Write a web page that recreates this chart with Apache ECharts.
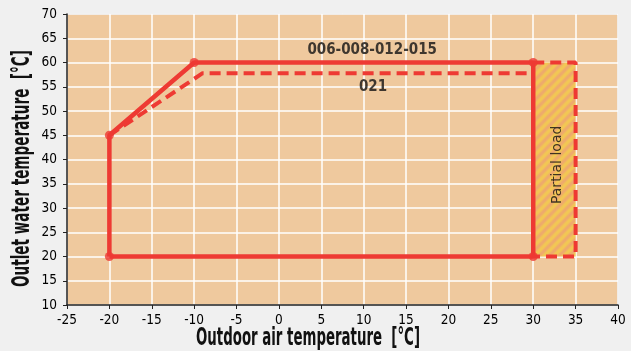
<!DOCTYPE html>
<html>
<head>
<meta charset="utf-8">
<script src="https://cdn.jsdelivr.net/npm/echarts@6/dist/echarts.min.js"></script>
<style>
  html, body { margin: 0; padding: 0; background: #f0f0f0; }
  #chart { width: 631px; height: 351px; }
</style>
</head>
<body>
<div id="chart"></div>
<script>
// Operating envelope: outdoor air temperature (°C) vs outlet water temperature (°C)
const envelopeMain = [[-20, 20], [-20, 45], [-10, 60], [30, 60], [30, 20], [-20, 20]];
const cornerPoints = [[-20, 20], [-20, 45], [-10, 60], [30, 60], [30, 20]];
const envelope021 = [[-20, 45], [-9, 57.8], [30, 57.8]];
const partialLoadOutline = [[30, 60], [35, 60], [35, 20], [30, 20]];
const partialLoadBox = [[30, 60], [35, 20]];
const modelLabels = [
  { name: '006-008-012-015', coord: [11, 62.6] },
  { name: '021', coord: [11.1, 54.85] }
];
const partialLoadLabel = { name: 'Partial load', coord: [32.9, 38.9] };
const xTitle = 'Outdoor air temperature  [°C]';
const yTitle = 'Outlet water temperature  [°C]';

const RED = '#ee3a33';
const TITLE_FONT = 'bold 25px "DejaVu Sans Condensed", "DejaVu Sans", sans-serif';

// diagonal hatch used for the partial-load zone
function hatchPattern() {
  const size = 10;
  const c = document.createElement('canvas');
  c.width = size; c.height = size;
  const g = c.getContext('2d');
  g.fillStyle = '#eea474';
  g.fillRect(0, 0, size, size);
  g.strokeStyle = '#f2cb50';
  g.lineWidth = 4;
  g.filter = 'blur(1px)';
  for (let k = -1; k <= 1; k++) {
    g.beginPath();
    g.moveTo(k * size - 3, size + 3);
    g.lineTo(k * size + size + 3, -3);
    g.stroke();
  }
  return c;
}

// horizontal squeeze so a title fits a given pixel length
function squeezeFor(text, targetWidth) {
  const g = document.createElement('canvas').getContext('2d');
  g.font = TITLE_FONT;
  return targetWidth / g.measureText(text).width;
}

const chart = echarts.init(document.getElementById('chart'), null, { renderer: 'canvas' });
const tickFont = { color: '#000000', fontSize: 13.5, fontFamily: 'DejaVu Sans Condensed, DejaVu Sans, sans-serif' };
const titleStyle = { font: TITLE_FONT, fill: '#111111', align: 'center', verticalAlign: 'middle' };

chart.setOption({
  backgroundColor: '#f0f0f0',
  animation: false,
  grid: {
    left: 67, right: 13, top: 14, bottom: 46,
    show: true, backgroundColor: '#efc99e',
    borderColor: '#a0a0a0', borderWidth: 1
  },
  xAxis: {
    type: 'value', min: -25, max: 40, interval: 5,
    axisLine: { show: true, onZero: false, lineStyle: { color: '#222', width: 1.5 } },
    axisTick: { show: true, length: 4, lineStyle: { color: '#222' } },
    axisLabel: Object.assign({ margin: 8 }, tickFont),
    splitLine: { show: true, lineStyle: { color: '#ffffff', width: 1.5 } }
  },
  yAxis: {
    type: 'value', min: 10, max: 70, interval: 5,
    axisLine: { show: true, onZero: false, lineStyle: { color: '#222', width: 1.5 } },
    axisTick: { show: true, length: 4, lineStyle: { color: '#222' } },
    axisLabel: Object.assign({ margin: 10 }, tickFont),
    splitLine: { show: true, lineStyle: { color: '#ffffff', width: 1.5 } }
  },
  graphic: [
    {
      type: 'text', x: 308, y: 338, scaleX: squeezeFor(xTitle, 224),
      style: Object.assign({ text: xTitle }, titleStyle)
    },
    {
      type: 'text', x: 22, y: 168.5, rotation: Math.PI / 2,
      scaleX: squeezeFor(yTitle, 237),
      style: Object.assign({ text: yTitle }, titleStyle)
    }
  ],
  series: [
    {
      type: 'line', name: 'partial', data: partialLoadOutline,
      symbol: 'none', z: 3,
      lineStyle: { color: RED, width: 4, type: [11, 6] },
      markArea: {
        silent: true,
        itemStyle: { color: { image: hatchPattern(), repeat: 'repeat' } },
        data: [[{ coord: partialLoadBox[0] }, { coord: partialLoadBox[1] }]]
      }
    },
    {
      type: 'line', name: '021', data: envelope021,
      symbol: 'none', z: 4,
      lineStyle: { color: RED, width: 4, type: [11, 6] }
    },
    {
      type: 'line', name: 'main', data: envelopeMain,
      symbol: 'none', z: 5,
      lineStyle: { color: RED, width: 4.5 }
    },
    {
      type: 'scatter', data: cornerPoints, symbol: 'circle', symbolSize: 9, z: 6,
      itemStyle: { color: RED }
    },
    {
      type: 'scatter', symbolSize: 0, z: 7,
      data: modelLabels.map(d => ({ value: d.coord, name: d.name })),
      label: {
        show: true, position: 'inside', formatter: '{b}',
        fontSize: 15, fontWeight: 'bold', color: '#111111',
        fontFamily: 'DejaVu Sans Condensed, sans-serif'
      }
    },
    {
      type: 'scatter', symbolSize: 0, z: 7,
      data: [{ value: partialLoadLabel.coord, name: partialLoadLabel.name }],
      label: {
        show: true, position: 'inside', formatter: '{b}', rotate: 90,
        fontSize: 14, color: '#111111',
        fontFamily: 'DejaVu Sans, sans-serif'
      }
    }
  ]
});
</script>
</body>
</html>
